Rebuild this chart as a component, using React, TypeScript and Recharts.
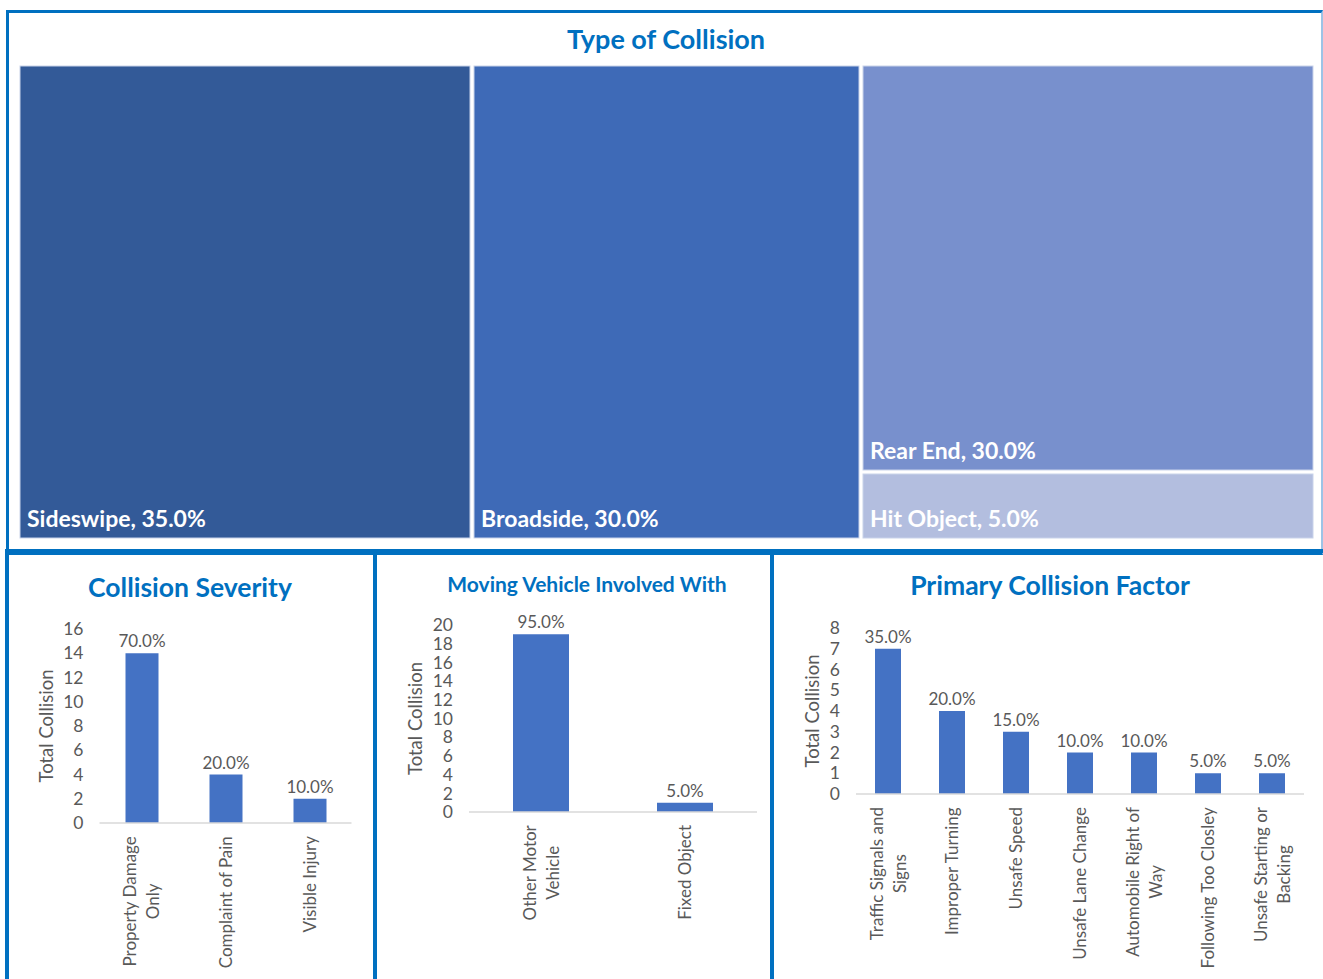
import React from "react";
import { BarChart, Bar, XAxis, YAxis, LabelList, Treemap } from "recharts";

const FONT = "Lato, 'Open Sans', sans-serif";
const GRAY = "#595959";
const BLUE = "#0070C0";
const BAR = "#4472C4";

// Type of Collision (treemap)
const collisionTypes = ["Sideswipe", "Broadside", "Rear End", "Hit Object"];
const collisionTypeCounts = [7, 6, 6, 1];
const collisionTypeColors = ["#335A98", "#3E6AB7", "#7890CD", "#B3BEDF"];

// Collision Severity
const severityLabels = ["Property Damage\nOnly", "Complaint of Pain", "Visible Injury"];
const severityCounts = [14, 4, 2];
const severityTicks = [0, 2, 4, 6, 8, 10, 12, 14, 16];

// Moving Vehicle Involved With
const vehicleLabels = ["Other Motor\nVehicle", "Fixed Object"];
const vehicleCounts = [19, 1];
const vehicleTicks = [0, 2, 4, 6, 8, 10, 12, 14, 16, 18, 20];

// Primary Collision Factor
const factorLabels = [
  "Traffic Signals and\nSigns",
  "Improper Turning",
  "Unsafe Speed",
  "Unsafe Lane Change",
  "Automobile Right of\nWay",
  "Following Too Closley",
  "Unsafe Starting or\nBacking",
];
const factorCounts = [7, 4, 3, 2, 2, 1, 1];
const factorTicks = [0, 1, 2, 3, 4, 5, 6, 7, 8];

const TICK_SIZE = 17.5;
const CAT_SIZE = 17;

function pct(v: number, all: number[]) {
  const total = all.reduce((a, b) => a + b, 0);
  return `${((v / total) * 100).toFixed(1)}%`;
}

function toRows(labels: string[], counts: number[]) {
  return labels.map((name, i) => ({ name, count: counts[i], pct: pct(counts[i], counts) }));
}

let ctx: CanvasRenderingContext2D | null = null;
function textWidth(s: string, size: number) {
  if (!ctx) ctx = document.createElement("canvas").getContext("2d");
  if (!ctx) return s.length * size * 0.5;
  ctx.font = `${size}px Lato`;
  return ctx.measureText(s).width;
}

// vertical category label, wrapped lines centred on each other like Excel does
function RotatedTick({ x, y, payload }: any) {
  const lines = String(payload.value).split("\n");
  const longest = Math.max(...lines.map((l) => textWidth(l, CAT_SIZE)));
  const cy = y + 13 + longest / 2;
  return (
    <g>
      {lines.map((l, i) => {
        const cx = x + (i - (lines.length - 1) / 2) * 23;
        return (
          <text
            key={i}
            x={cx}
            y={cy}
            transform={`rotate(-90, ${cx}, ${cy})`}
            textAnchor="middle"
            dominantBaseline="central"
            fill={GRAY}
            fontSize={CAT_SIZE}
            fontFamily={FONT}
          >
            {l}
          </text>
        );
      })}
    </g>
  );
}

const axisTitle = (dx: number) => (props: any) => {
  const vb = props.viewBox || {};
  const x = (vb.x ?? 0) + dx;
  const y = (vb.y ?? 0) + (vb.height ?? 0) / 2;
  return (
    <text
      x={x}
      y={y}
      transform={`rotate(-90, ${x}, ${y})`}
      textAnchor="middle"
      dominantBaseline="central"
      fill={GRAY}
      fontSize={18.5}
      fontFamily={FONT}
    >
      Total Collision
    </text>
  );
};

function CountChart({ rows, ticks, width, height, top, right, yWidth, xHeight, barSize, titleDx }: any) {
  const max = ticks[ticks.length - 1];
  return (
    <BarChart width={width} height={height} data={rows} margin={{ top, right, left: 0, bottom: 0 }}>
      <XAxis
        dataKey="name"
        height={xHeight}
        interval={0}
        tickLine={false}
        tickSize={0}
        tickMargin={0}
        axisLine={{ stroke: "#D9D9D9", strokeWidth: 1.5 }}
        tick={<RotatedTick />}
      />
      <YAxis
        width={yWidth}
        domain={[0, max]}
        ticks={ticks}
        interval={0}
        axisLine={false}
        tickLine={false}
        tickMargin={10}
        tick={{ fill: GRAY, fontSize: TICK_SIZE, fontFamily: FONT }}
        label={axisTitle(titleDx)}
      />
      <Bar dataKey="count" fill={BAR} barSize={barSize} isAnimationActive={false}>
        <LabelList dataKey="pct" position="top" offset={6} fill={GRAY} fontSize={17} fontFamily={FONT} />
      </Bar>
    </BarChart>
  );
}

function TypeCell(props: any) {
  const { x, y, width, height, depth, name } = props;
  if (depth !== 1) return null;
  const i = collisionTypes.indexOf(name);
  return (
    <g>
      <rect
        x={x + 2}
        y={y + 2}
        width={width - 4}
        height={height - 4}
        fill={collisionTypeColors[i]}
        stroke="#C9D3EA"
        strokeWidth={1}
      />
      <text
        x={x + 9}
        y={y + height - 22}
        dominantBaseline="central"
        fill="#FFFFFF"
        fontSize={23}
        fontWeight={700}
        fontFamily={FONT}
      >
        {`${name}, ${pct(collisionTypeCounts[i], collisionTypeCounts)}`}
      </text>
    </g>
  );
}

function Title({ text, cx, cy, size }: { text: string; cx: number; cy: number; size: number }) {
  return (
    <div
      style={{
        position: "absolute",
        left: cx - 250,
        top: cy - 20,
        width: 500,
        height: 40,
        lineHeight: "40px",
        textAlign: "center",
        color: BLUE,
        fontWeight: 700,
        fontSize: size,
        fontFamily: FONT,
        whiteSpace: "nowrap",
      }}
    >
      {text}
    </div>
  );
}

const panel = (left: number, top: number, width: number, height: number, extra: any = {}) => ({
  position: "absolute" as const,
  left,
  top,
  width,
  height,
  boxSizing: "border-box" as const,
  border: `4px solid ${BLUE}`,
  ...extra,
});

export default function App() {
  const typeRows = collisionTypes.map((name, i) => ({ name, size: collisionTypeCounts[i] }));
  return (
    <div style={{ position: "absolute", left: 0, top: 0, width: 1323, height: 979, overflow: "hidden", background: "#fff" }}>
      <div
        style={panel(6, 10, 1317, 545, {
          borderTop: `3px solid ${BLUE}`,
          borderLeft: `3px solid ${BLUE}`,
          borderRight: "2px solid #9DC3E6",
        })}
      />
      <Title text="Type of Collision" cx={666} cy={39} size={27} />
      <div style={{ position: "absolute", left: 18, top: 64 }}>
        <Treemap
          width={1297}
          height={476}
          data={typeRows}
          dataKey="size"
          nameKey="name"
          isAnimationActive={false}
          content={<TypeCell />}
        />
      </div>

      <div style={panel(5, 549, 372, 450)} />
      <div style={panel(373, 549, 401, 450)} />
      <div style={panel(770, 549, 580, 450)} />

      <Title text="Collision Severity" cx={190} cy={587} size={26.5} />
      <Title text="Moving Vehicle Involved With" cx={587} cy={584} size={21} />
      <Title text="Primary Collision Factor" cx={1050} cy={585} size={26.5} />

      <div style={{ position: "absolute", left: 10, top: 600 }}>
        <CountChart
          rows={toRows(severityLabels, severityCounts)}
          ticks={severityTicks}
          width={362}
          height={379}
          top={29}
          right={20.5}
          yWidth={89.5}
          xHeight={156}
          barSize={33}
          titleDx={36}
        />
      </div>
      <div style={{ position: "absolute", left: 380, top: 600 }}>
        <CountChart
          rows={toRows(vehicleLabels, vehicleCounts)}
          ticks={vehicleTicks}
          width={390}
          height={379}
          top={25}
          right={13}
          yWidth={89}
          xHeight={167}
          barSize={56}
          titleDx={35}
        />
      </div>
      <div style={{ position: "absolute", left: 778, top: 600 }}>
        <CountChart
          rows={toRows(factorLabels, factorCounts)}
          ticks={factorTicks}
          width={540}
          height={379}
          top={28}
          right={14}
          yWidth={78}
          xHeight={185}
          barSize={26}
          titleDx={34}
        />
      </div>
    </div>
  );
}
